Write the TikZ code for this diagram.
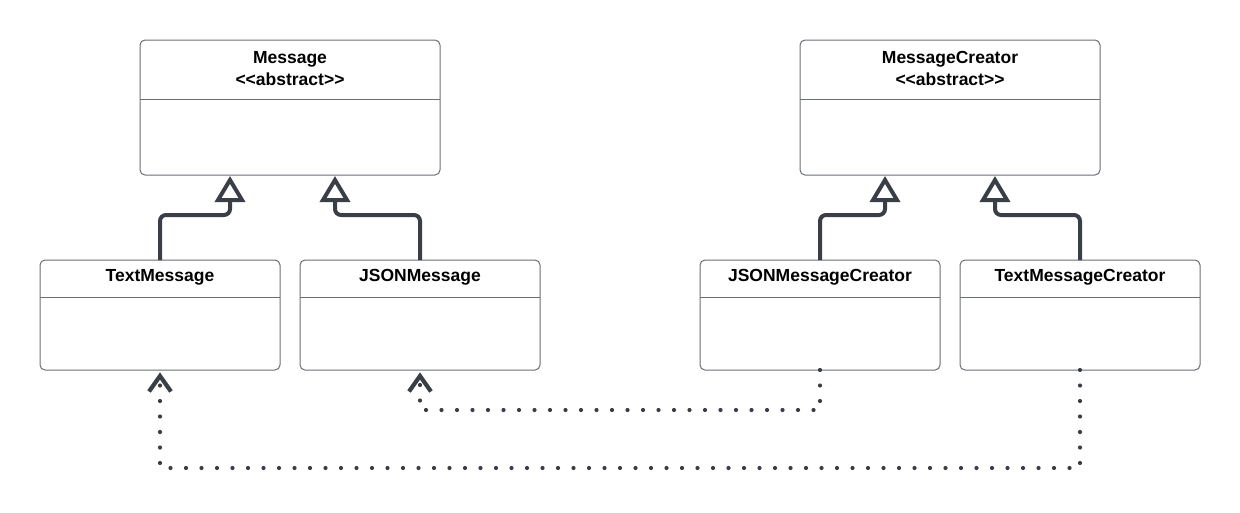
\documentclass[tikz,border=0pt]{standalone}
\usepackage{fontspec}
\newfontfamily\uml{Liberation Sans}
\usetikzlibrary{calc}
\definecolor{boxc}{HTML}{6A6E75}
\definecolor{linec}{HTML}{3A3F47}
\begin{document}
\begin{tikzpicture}[x=1pt,y=-1pt,
 cls/.style={draw=boxc,line width=1pt,rounded corners=5pt,fill=white,inner sep=0pt,outer sep=0pt},
 bigcls/.style={cls,minimum width=300pt,minimum height=135pt},
 smallcls/.style={cls,minimum width=240pt,minimum height=110pt},
 ttl/.style={font=\uml\bfseries\fontsize{17.5}{22}\selectfont,align=center,inner sep=0pt},
 divline/.style={draw=boxc,line width=0.8pt},
 inh/.style={draw=linec,line width=4pt},
 tri/.style={draw=linec,line width=4pt,line join=miter,fill=white},
 dep/.style={draw=linec,line width=4.2pt,line cap=round,dash pattern=on 0pt off 15.5pt},
 chev/.style={draw=linec,line width=4.2pt,line join=miter}]
\useasboundingbox (0,0) rectangle (1240,512);
% boxes
\node[bigcls] (msg) at (290,107.5) {};
\node[bigcls] (mc) at (950,107.5) {};
\node[smallcls] (tm) at (160,315) {};
\node[smallcls] (jm) at (420,315) {};
\node[smallcls] (jmc) at (820,315) {};
\node[smallcls] (tmc) at (1080,315) {};
% dividers
\draw[divline] ($(msg.north west)+(0,59)$) -- ($(msg.north east)+(0,59)$);
\draw[divline] ($(mc.north west)+(0,59)$) -- ($(mc.north east)+(0,59)$);
\foreach \b in {tm,jm,jmc,tmc}{
  \draw[divline] ($(\b.north west)+(0,37)$) -- ($(\b.north east)+(0,37)$);
}
% titles
\node[ttl] (msgt) at ($(msg.north)+(0,28.5)$) {Message\\<<abstract>>};
\node[ttl] (mct) at ($(mc.north)+(0,28.5)$) {MessageCreator\\<<abstract>>};
\node[ttl] (tmt) at ($(tm.north)+(0,17.5)$) {TextMessage};
\node[ttl] (jmt) at ($(jm.north)+(0,17.5)$) {JSONMessage};
\node[ttl] (jmct) at ($(jmc.north)+(0,17.5)$) {JSONMessageCreator};
\node[ttl] (tmct) at ($(tmc.north)+(0,17.5)$) {TextMessageCreator};
% arrow-tip anchors (apex points)
\coordinate (a1) at ($(msg.south west)+(90,5)$);
\coordinate (a2) at ($(msg.south west)+(195,5)$);
\coordinate (a3) at ($(mc.south west)+(85,5)$);
\coordinate (a4) at ($(mc.south west)+(195,5)$);
% inheritance
\foreach \s/\a in {tm/a1,jm/a2,jmc/a3,tmc/a4}{
  \draw[inh] (\s.north) [rounded corners=6pt] |- ($(\a)+(0,35)$) [sharp corners] -- ($(\a)+(0,20)$);
  \draw[tri] (\a) -- ($(\a)+(12,20)$) -- ($(\a)+(-12,20)$) -- cycle;
}
% dependencies
\coordinate (d1) at ($(jm.south)+(0,6)$);
\coordinate (d2) at ($(tm.south)+(0,6)$);
\draw[dep] (jmc.south) |- ($(jm.south)+(0,40)$) -- ($(d1)+(0,4)$);
\draw[dep] (tmc.south) |- ($(tm.south)+(0,98)$) -- ($(d2)+(0,4)$);
\draw[chev] ($(d1)+(-11,15.5)$) -- (d1) -- ($(d1)+(11,15.5)$);
\draw[chev] ($(d2)+(-11,15.5)$) -- (d2) -- ($(d2)+(11,15.5)$);
\end{tikzpicture}
\end{document}
